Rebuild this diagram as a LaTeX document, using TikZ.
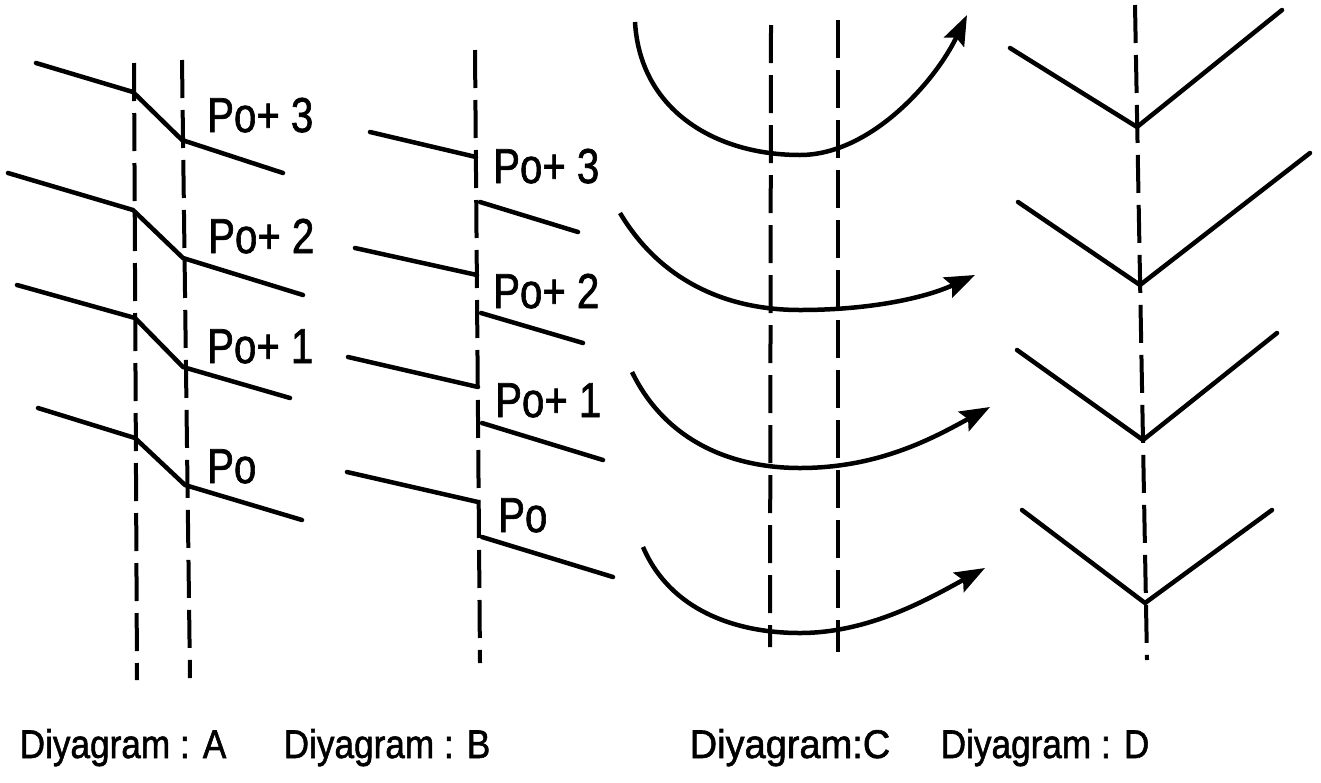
\documentclass[tikz,border=0pt]{standalone}
\usepackage{fontspec}
\setmainfont{Liberation Sans}
\newfontfamily\labfont{Liberation Sans}[FakeBold=1.5]
\usetikzlibrary{arrows.meta}
\begin{document}
\begin{tikzpicture}[x=1pt,y=-1pt,
  solid line/.style={line width=4.5pt,line cap=round,line join=round},
  guide/.style={line width=4pt,dash pattern=on 38pt off 12pt},
  flow/.style={line width=4.5pt,-{Stealth[length=30pt,width=22pt,inset=5pt]}},
  lab/.style={inner sep=0pt,anchor=base west,font=\labfont\fontsize{49}{55}\selectfont},
  title/.style={inner sep=0pt,anchor=base,font=\labfont\fontsize{40}{45}\selectfont}]
\useasboundingbox (0,0) rectangle (1321,782);
% ---------- Diagram A ----------
\draw[guide] (134,63) -- (137,680);
\draw[guide] (182,60) -- (190,678);
\draw[solid line] (36,63) -- (133,92) -- (182,140) -- (283,173);
\draw[solid line] (8,173) -- (133,210) -- (183,258) -- (303,295);
\draw[solid line] (17,285) -- (135,318) -- (183,367) -- (290,398);
\draw[solid line] (38,408) -- (135,438) -- (185,485) -- (302,520);
\node[lab] (a3) at (207,132) {\scalebox{0.82}[1]{Po+ 3}};
\node[lab] (a2) at (208,253) {\scalebox{0.82}[1]{Po+ 2}};
\node[lab] (a1) at (207,363) {\scalebox{0.82}[1]{Po+ 1}};
\node[lab] (a0) at (207,483) {\scalebox{0.82}[1]{Po}};
% ---------- Diagram B ----------
\draw[guide] (475,50) -- (480,663);
\draw[solid line] (370,132) -- (476,157);
\draw[solid line] (480,202) -- (578,232);
\draw[solid line] (355,248) -- (477,275);
\draw[solid line] (481,313) -- (583,343);
\draw[solid line] (348,357) -- (478,387);
\draw[solid line] (482,423) -- (603,460);
\draw[solid line] (347,472) -- (478,502);
\draw[solid line] (482,537) -- (613,577);
\node[lab] (b3) at (493,183) {\scalebox{0.82}[1]{Po+ 3}};
\node[lab] (b2) at (493,308) {\scalebox{0.82}[1]{Po+ 2}};
\node[lab] (b1) at (495,417) {\scalebox{0.82}[1]{Po+ 1}};
\node[lab] (b0) at (498,532) {\scalebox{0.82}[1]{Po}};
% ---------- Diagram C ----------
\draw[guide] (771,25) -- (770,647);
\draw[guide] (838,20) -- (838,652);
\draw[flow] (635,22) .. controls (640,110) and (715,155) .. (800,155)
  .. controls (870,155) and (935,82) .. (967,15);
\draw[flow] (620,213) .. controls (660,280) and (725,310) .. (800,310)
  .. controls (870,310) and (925,298) .. (975,275);
\draw[flow] (632,372) .. controls (665,440) and (730,468) .. (800,468)
  .. controls (880,468) and (935,437) .. (990,407);
\draw[flow] (643,547) .. controls (670,610) and (735,633) .. (800,633)
  .. controls (870,633) and (930,598) .. (985,568);
% ---------- Diagram D ----------
\draw[guide] (1135,5) -- (1147,660);
\draw[solid line] (1010,48) -- (1137,127) -- (1282,10);
\draw[solid line] (1018,202) -- (1140,285) -- (1310,153);
\draw[solid line] (1017,350) -- (1143,440) -- (1277,333);
\draw[solid line] (1022,510) -- (1145,603) -- (1272,510);
% ---------- Titles ----------
\node[title] (tA) at (123,758) {\scalebox{0.88}[1]{Diyagram : A}};
\node[title] (tB) at (387,758) {\scalebox{0.88}[1]{Diyagram : B}};
\node[title] (tC) at (790,758) {\scalebox{0.95}[1]{Diyagram:C}};
\node[title] (tD) at (1045,758) {\scalebox{0.88}[1]{Diyagram : D}};
\end{tikzpicture}
\end{document}
